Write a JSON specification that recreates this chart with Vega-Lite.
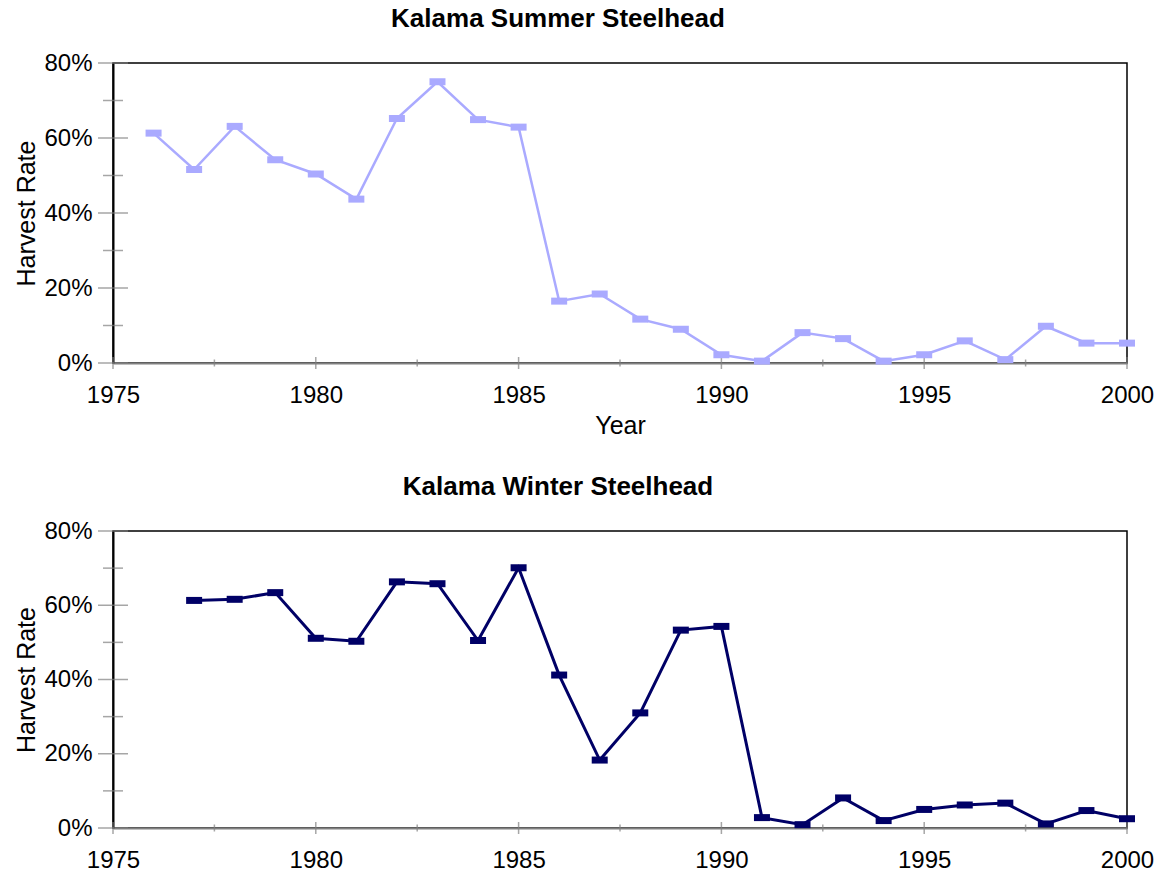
{
  "$schema": "https://vega.github.io/schema/vega-lite/v6.json",
  "padding": {"left": 14, "top": 5, "right": 5, "bottom": 5},
  "background": "#ffffff",
  "spacing": 34,
  "config": {
    "font": "Liberation Sans",
    "view": {"stroke": "#000000", "strokeWidth": 1.5},
    "title": {"font": "Liberation Sans", "fontSize": 26, "fontWeight": "bold", "color": "#000000", "anchor": "middle", "offset": 19},
    "axis": {"labelFont": "Liberation Sans", "labelFontSize": 24, "labelColor": "#000000", "titleFont": "Liberation Sans", "titleFontSize": 25, "titleFontWeight": "normal", "titleColor": "#000000", "ticks": false, "tickSize": 0, "grid": false, "labelFlush": false, "labelOverlap": false, "zindex": 1}
  },
  "datasets": {
    "summer": [
      {"year": 1976, "rate": 0.613}, {"year": 1977, "rate": 0.516}, {"year": 1978, "rate": 0.631}, {"year": 1979, "rate": 0.542}, {"year": 1980, "rate": 0.504},
      {"year": 1981, "rate": 0.437}, {"year": 1982, "rate": 0.652}, {"year": 1983, "rate": 0.750}, {"year": 1984, "rate": 0.649}, {"year": 1985, "rate": 0.629},
      {"year": 1986, "rate": 0.165}, {"year": 1987, "rate": 0.184}, {"year": 1988, "rate": 0.117}, {"year": 1989, "rate": 0.090}, {"year": 1990, "rate": 0.022},
      {"year": 1991, "rate": 0.005}, {"year": 1992, "rate": 0.081}, {"year": 1993, "rate": 0.065}, {"year": 1994, "rate": 0.005}, {"year": 1995, "rate": 0.022},
      {"year": 1996, "rate": 0.059}, {"year": 1997, "rate": 0.009}, {"year": 1998, "rate": 0.098}, {"year": 1999, "rate": 0.053}, {"year": 2000, "rate": 0.053}
    ],
    "winter": [
      {"year": 1977, "rate": 0.613}, {"year": 1978, "rate": 0.616}, {"year": 1979, "rate": 0.634}, {"year": 1980, "rate": 0.511},
      {"year": 1981, "rate": 0.503}, {"year": 1982, "rate": 0.663}, {"year": 1983, "rate": 0.658}, {"year": 1984, "rate": 0.505}, {"year": 1985, "rate": 0.701},
      {"year": 1986, "rate": 0.412}, {"year": 1987, "rate": 0.183}, {"year": 1988, "rate": 0.310}, {"year": 1989, "rate": 0.533}, {"year": 1990, "rate": 0.543},
      {"year": 1991, "rate": 0.028}, {"year": 1992, "rate": 0.009}, {"year": 1993, "rate": 0.081}, {"year": 1994, "rate": 0.020}, {"year": 1995, "rate": 0.050},
      {"year": 1996, "rate": 0.062}, {"year": 1997, "rate": 0.067}, {"year": 1998, "rate": 0.011}, {"year": 1999, "rate": 0.047}, {"year": 2000, "rate": 0.025}
    ],
    "ymajor": [{"v": 0}, {"v": 0.2}, {"v": 0.4}, {"v": 0.6}, {"v": 0.8}],
    "yminor": [{"v": 0.1}, {"v": 0.3}, {"v": 0.5}, {"v": 0.7}],
    "xmajor": [{"t": 1975}, {"t": 1980}, {"t": 1985}, {"t": 1990}, {"t": 1995}, {"t": 2000}],
    "xminor": [{"t": 1977.5}, {"t": 1982.5}, {"t": 1987.5}, {"t": 1992.5}, {"t": 1997.5}]
  },
  "vconcat": [
    {
      "title": {"text": "Kalama Summer Steelhead", "dx": -62},
      "width": 1014,
      "height": 300,
      "layer": [
        {
          "data": {"name": "ymajor"},
          "mark": {"type": "tick", "orient": "horizontal", "color": "#808080", "size": 30, "thickness": 1.5},
          "encoding": {
            "x": {"datum": 1975, "type": "quantitative", "scale": {"domain": [1975, 2000], "nice": false, "zero": false}},
            "y": {"field": "v", "type": "quantitative", "scale": {"domain": [0, 0.8], "nice": false}}
          }
        },
        {
          "data": {"name": "yminor"},
          "mark": {"type": "tick", "orient": "horizontal", "color": "#808080", "size": 20, "thickness": 1.5},
          "encoding": {
            "x": {"datum": 1975, "type": "quantitative"},
            "y": {"field": "v", "type": "quantitative"}
          }
        },
        {
          "data": {"name": "xmajor"},
          "mark": {"type": "tick", "orient": "vertical", "color": "#808080", "size": 12, "thickness": 1.5},
          "encoding": {
            "x": {"field": "t", "type": "quantitative"},
            "y": {"datum": 0, "type": "quantitative"}
          }
        },
        {
          "data": {"name": "xminor"},
          "mark": {"type": "tick", "orient": "vertical", "color": "#808080", "size": 7, "thickness": 1.5},
          "encoding": {
            "x": {"field": "t", "type": "quantitative"},
            "y": {"datum": 0, "type": "quantitative"}
          }
        },
        {
          "data": {"name": "summer"},
          "mark": {"type": "line", "color": "#AAAAFF", "strokeWidth": 2.5},
          "encoding": {
            "x": {"field": "year", "type": "quantitative", "axis": {"values": [1975, 1980, 1985, 1990, 1995, 2000], "format": "d", "title": "Year", "labelPadding": 20, "titlePadding": 6, "domainColor": "#808080", "domainWidth": 2}},
            "y": {"field": "rate", "type": "quantitative", "axis": {"values": [0, 0.2, 0.4, 0.6, 0.8], "format": ".0%", "title": "Harvest Rate", "labelPadding": 21, "titlePadding": 4, "domainColor": "#000000", "domainWidth": 2}}
          }
        },
        {
          "data": {"name": "summer"},
          "mark": {"type": "point", "shape": "M-1,-0.4375H1V0.4375H-1Z", "size": 256, "filled": true, "opacity": 1, "color": "#AAAAFF"},
          "encoding": {
            "x": {"field": "year", "type": "quantitative"},
            "y": {"field": "rate", "type": "quantitative"}
          }
        }
      ]
    },
    {
      "title": {"text": "Kalama Winter Steelhead", "dx": -62},
      "width": 1014,
      "height": 297,
      "layer": [
        {
          "data": {"name": "ymajor"},
          "mark": {"type": "tick", "orient": "horizontal", "color": "#808080", "size": 30, "thickness": 1.5},
          "encoding": {
            "x": {"datum": 1975, "type": "quantitative", "scale": {"domain": [1975, 2000], "nice": false, "zero": false}},
            "y": {"field": "v", "type": "quantitative", "scale": {"domain": [0, 0.8], "nice": false}}
          }
        },
        {
          "data": {"name": "yminor"},
          "mark": {"type": "tick", "orient": "horizontal", "color": "#808080", "size": 20, "thickness": 1.5},
          "encoding": {
            "x": {"datum": 1975, "type": "quantitative"},
            "y": {"field": "v", "type": "quantitative"}
          }
        },
        {
          "data": {"name": "xmajor"},
          "mark": {"type": "tick", "orient": "vertical", "color": "#808080", "size": 12, "thickness": 1.5},
          "encoding": {
            "x": {"field": "t", "type": "quantitative"},
            "y": {"datum": 0, "type": "quantitative"}
          }
        },
        {
          "data": {"name": "xminor"},
          "mark": {"type": "tick", "orient": "vertical", "color": "#808080", "size": 7, "thickness": 1.5},
          "encoding": {
            "x": {"field": "t", "type": "quantitative"},
            "y": {"datum": 0, "type": "quantitative"}
          }
        },
        {
          "data": {"name": "winter"},
          "mark": {"type": "line", "color": "#000066", "strokeWidth": 3},
          "encoding": {
            "x": {"field": "year", "type": "quantitative", "axis": {"values": [1975, 1980, 1985, 1990, 1995, 2000], "format": "d", "title": null, "labelPadding": 20, "domainColor": "#808080", "domainWidth": 2}},
            "y": {"field": "rate", "type": "quantitative", "axis": {"values": [0, 0.2, 0.4, 0.6, 0.8], "format": ".0%", "title": "Harvest Rate", "labelPadding": 21, "titlePadding": 4, "domainColor": "#000000", "domainWidth": 2}}
          }
        },
        {
          "data": {"name": "winter"},
          "mark": {"type": "point", "shape": "M-1,-0.4375H1V0.4375H-1Z", "size": 256, "filled": true, "opacity": 1, "color": "#000066"},
          "encoding": {
            "x": {"field": "year", "type": "quantitative"},
            "y": {"field": "rate", "type": "quantitative"}
          }
        }
      ]
    }
  ]
}
